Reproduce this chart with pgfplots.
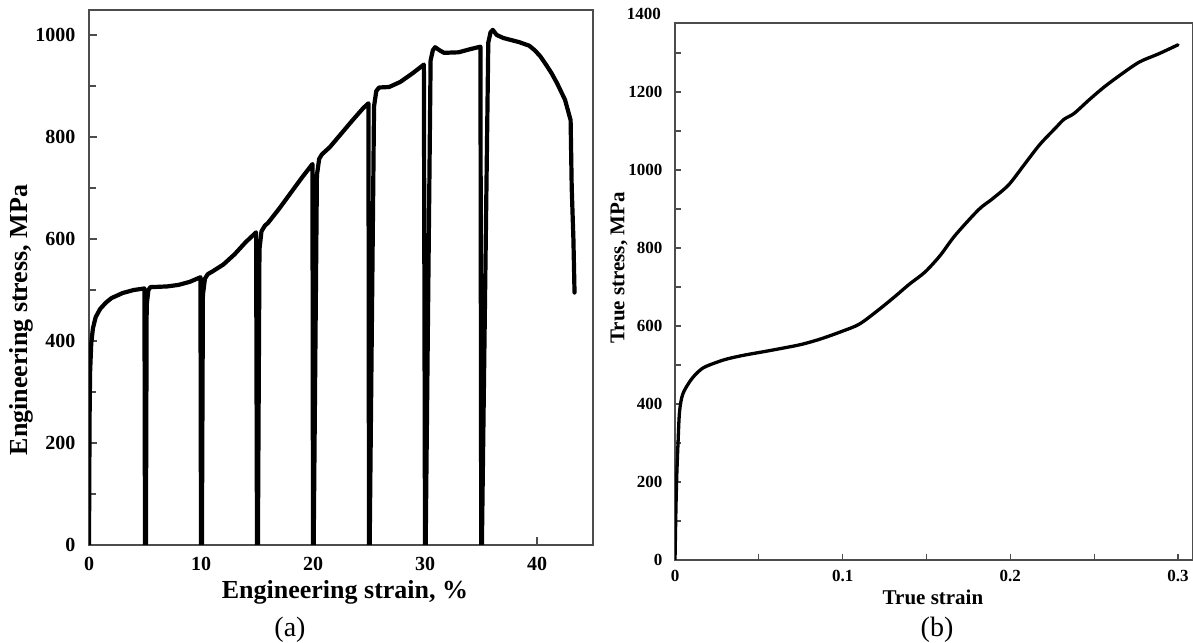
\documentclass[border=0pt]{standalone}
\usepackage{fontspec}
\setmainfont{Liberation Serif}
\usepackage{pgfplots}
\pgfplotsset{compat=1.18}
\begin{document}
\begin{tikzpicture}[x=1bp,y=1bp]
\useasboundingbox (0,0) rectangle (1193,643);
% ---------------- (a) engineering curve ----------------
\begin{axis}[at={(89bp,98bp)}, anchor=south west, scale only axis,
  width=504bp, height=535bp,
  xmin=0, xmax=45, ymin=0, ymax=1049,
  xtick={0,10,20,30,40}, ytick={0,200,...,1000}, minor ytick={100,300,...,900},
  tick pos=left, tick align=inside,
  major tick length=8bp, minor tick length=7bp,
  axis line style={draw=black!70, line width=1.4bp},
  every tick/.style={draw=black!70, line width=1.2bp},
  /pgf/number format/assume math mode=true, /pgf/number format/1000 sep={},
  tick label style={font=\fontsize{20bp}{24bp}\selectfont\bfseries},
  yticklabel style={xshift=-10bp}, xticklabel style={yshift=-9bp}]
\addplot[black, line width=4.2bp, line join=round, line cap=round] coordinates {
(0,0) (0.03,150) (0.06,270) (0.1,340) (0.2,395) (0.35,425) (0.6,447) (1,463) (1.5,475) (2,484) (3,494) (4,500) (4.95,503)
(5.0,0) (5.08,0) (5.15,470) (5.3,500) (5.5,506)
(6,506) (7,507) (8,510) (9,516) (9.95,525)
(10,0) (10.08,0) (10.17,490) (10.35,522) (10.6,531)
(11,536) (12,550) (13,570) (14,594) (14.92,613)
(15,0) (15.08,0) (15.22,580) (15.4,615) (15.7,626)
(16,632) (17,660) (18,690) (19,720) (19.95,747)
(20,0) (20.06,0) (20.35,725) (20.55,757) (20.8,766)
(21.5,780) (22.5,806) (23.5,832) (24.5,857) (24.95,866)
(25.0,0) (25.06,0) (25.45,860) (25.65,890) (25.9,897)
(26.8,898) (27.8,908) (28.9,925) (29.9,942)
(30,0) (30.06,0) (30.5,950) (30.7,970) (30.9,976)
(31.3,970) (31.7,965) (33,966) (34,972) (34.95,977)
(35.02,0) (35.08,0) (35.65,985) (35.85,1005) (36.05,1010)
(36.4,1000) (37,994) (38.4,986) (39.3,979) (39.8,970) (40.3,958) (40.8,942) (41.3,925) (41.8,905) (42.5,873) (43,833)
(43.1,700) (43.25,600) (43.35,495)
};
\end{axis}
% ---------------- (b) true curve ----------------
\begin{axis}[at={(675bp,83bp)}, anchor=south west, scale only axis,
  width=518bp, height=537bp,
  xmin=0, xmax=0.30895, ymin=0, ymax=1377,
  xtick={0,0.1,0.2,0.3}, minor xtick={0.05,0.15,0.25},
  ytick={0,200,...,1200}, minor ytick={100,300,...,1300},
  tick pos=left, tick align=inside,
  major tick length=6bp, minor tick length=6bp,
  axis line style={draw=black!70, line width=1.4bp},
  every tick/.style={draw=black!70, line width=1.1bp},
  /pgf/number format/assume math mode=true, /pgf/number format/1000 sep={},
  tick label style={font=\fontsize{17bp}{20bp}\selectfont\bfseries},
  yticklabel style={xshift=-9bp}, xticklabel style={yshift=-7bp}]
\addplot[black, line width=3.3bp, smooth, line join=round, line cap=round] coordinates {
(0,0) (0.0005,120) (0.001,210) (0.0018,300) (0.0027,380) (0.0046,425) (0.0092,460) (0.0137,482) (0.0183,496) (0.0298,514) (0.041,525) (0.0527,534) (0.064,543) (0.0756,553) (0.087,567) (0.1,587) (0.11,605) (0.121,640) (0.131,675) (0.1397,707) (0.149,738) (0.158,780) (0.167,832) (0.181,898) (0.189,925) (0.199,962) (0.208,1012) (0.2175,1065) (0.227,1108) (0.232,1130) (0.238,1145) (0.247,1180) (0.256,1213) (0.266,1245) (0.277,1277) (0.2885,1298) (0.3,1321)
};
\end{axis}
\node[anchor=east, inner sep=0pt, font=\fontsize{17bp}{20bp}\selectfont\bfseries] at (661,629) {1400};
% ---------------- labels ----------------
\node[font=\fontsize{26bp}{30bp}\selectfont\bfseries] at (345,51) {Engineering strain, \%};
\node[rotate=90, font=\fontsize{26bp}{30bp}\selectfont\bfseries] at (21,323) {Engineering stress, MPa};
\node[font=\fontsize{28bp}{32bp}\selectfont] at (290,13) {(a)};
\node[font=\fontsize{21bp}{25bp}\selectfont\bfseries] at (933,46) {True strain};
\node[rotate=90, font=\fontsize{21bp}{25bp}\selectfont\bfseries] at (619,375) {True stress, MPa};
\node[font=\fontsize{28bp}{32bp}\selectfont] at (937,13) {(b)};
\end{tikzpicture}
\end{document}
